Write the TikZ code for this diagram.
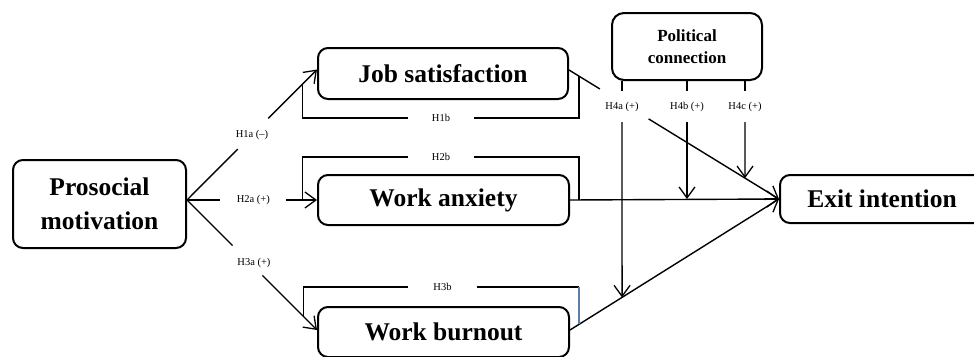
\documentclass[tikz,border=0pt]{standalone}
\usepackage{fontspec}
\setmainfont{Liberation Serif}
\usetikzlibrary{arrows.meta,calc}
\definecolor{bluegray}{RGB}{95,125,165}
\begin{document}
\begin{tikzpicture}[x=1pt,y=-1pt,
  box/.style={draw, line width=2pt, rounded corners=10pt, align=center, inner sep=0pt,
              font=\fontsize{25.5}{34}\selectfont\bfseries},
  conn/.style={line width=1.4pt},
  arr/.style={conn, -{Straight Barb[length=11pt,width=16pt,line width=1.3pt]}},
  lab/.style={font=\fontsize{10.5}{12}\selectfont, inner sep=0pt},
  brk/.style={line width=1.3pt}]
\useasboundingbox (0,0) rectangle (974,356);
\clip (0,0) rectangle (974,356);

% boxes
\node[box, minimum width=173pt, minimum height=88pt] (pm) at (99.5,204) {Prosocial\\motivation};
\node[box, minimum width=250pt, minimum height=51pt] (js) at (443,73.5) {Job satisfaction};
\node[box, minimum width=251pt, minimum height=50pt] (wa) at (443.5,200) {Work anxiety};
\node[box, minimum width=251pt, minimum height=50pt] (wb) at (443.5,332) {Work burnout};
\node[box, minimum width=204pt, minimum height=48pt] (ex) at (882,199) {Exit intention};
\node[box, rounded corners=12pt, minimum width=150pt, minimum height=67pt,
      font=\fontsize{17}{22}\selectfont\bfseries] (pc) at (687,46.5) {Political\\connection};

% anchor points
\coordinate (pmo) at ([yshift=4pt]pm.east);
\coordinate (jsi) at ([yshift=4pt]js.west);
\coordinate (wai) at (wa.west);
\coordinate (wbi) at ([yshift=2pt]wb.west);
\coordinate (jso) at ([yshift=3.5pt]js.east);
\coordinate (wao) at (wa.east);
\coordinate (wbo) at ([yshift=2pt]wb.east);
\coordinate (exi) at (ex.west);

% H1a, H2a, H3a
\node[lab] (h1a) at ($(pmo)!0.5!(jsi)$) {H1a (–)};
\draw[conn] (pmo) -- ($(pmo)!0.39!(jsi)$);
\draw[arr] ($(pmo)!0.625!(jsi)$) -- (jsi);

\node[lab] (h2a) at ($(pmo)!0.51!(wai)$) {H2a (+)};
\draw[conn] (pmo) -- ($(pmo)!0.25!(wai)$);
\draw[arr] ($(pmo)!0.765!(wai)$) -- (wai);

\node[lab] (h3a) at ($(pmo)!0.515!(wbi)+(0,-4)$) {H3a (+)};
\draw[conn] (pmo) -- ($(pmo)!0.35!(wbi)$);
\draw[arr] ($(pmo)!0.58!(wbi)$) -- (wbi);

% paths to exit intention
\draw[conn] (jso) -- ($(jso)!0.147!(exi)$);
\draw[arr] ($(jso)!0.379!(exi)$) -- (exi);
\draw[arr] (wao) -- (exi);
\draw[arr] (wbo) -- (exi);

% moderation
\node[lab, minimum height=31pt] (h4a) at (622,106.5) {H4a (+)};
\node[lab, minimum height=31pt] (h4b) at (687,106.5) {H4b (+)};
\node[lab, minimum height=31pt] (h4c) at (745,106.5) {H4c (+)};
\draw[conn] (pc.south -| h4a) -- (h4a.north);
\draw[conn] (pc.south -| h4b) -- (h4b.north);
\draw[conn] (pc.south -| h4c) -- (h4c.north);
\draw[arr] (h4a.south) -- (intersection of h4a.south--h4a.north and wbo--exi);
\draw[arr] (h4b.south) -- (h4b.south |- exi);
\draw[arr] (h4c.south) -- (intersection of h4c.south--h4c.north and jso--exi);

% mediation brackets
\coordinate (b1a) at ($(pmo)!0.886!(jsi)$);
\coordinate (b1b) at ($(jso)!0.047!(exi)$);
\node[lab, inner xsep=24pt] (h1b) at (441,118) {H1b};
\draw[brk] (b1a) |- (h1b.west);
\draw[brk] (h1b.east) -| (b1b);

\coordinate (b2a) at ($(pmo)!0.886!(wai)$);
\coordinate (b2b) at ($(wao)!0.043!(exi)$);
\node[lab, inner xsep=24pt] (h2b) at (441,157) {H2b};
\draw[brk] (b2a) |- (h2b.west);
\draw[brk] (h2b.east) -| (b2b);

\coordinate (b3a) at ($(pmo)!0.894!(wbi)$);
\coordinate (b3b) at ($(wbo)!0.043!(exi)$);
\node[lab, inner xsep=25pt] (h3b) at (442.5,287) {H3b};
\draw[brk] (b3a) |- (h3b.west);
\draw[brk] (h3b.east) -- (h3b.east -| b3b);
\draw[brk, draw=bluegray] (h3b.east -| b3b) -- (b3b);
\end{tikzpicture}
\end{document}
